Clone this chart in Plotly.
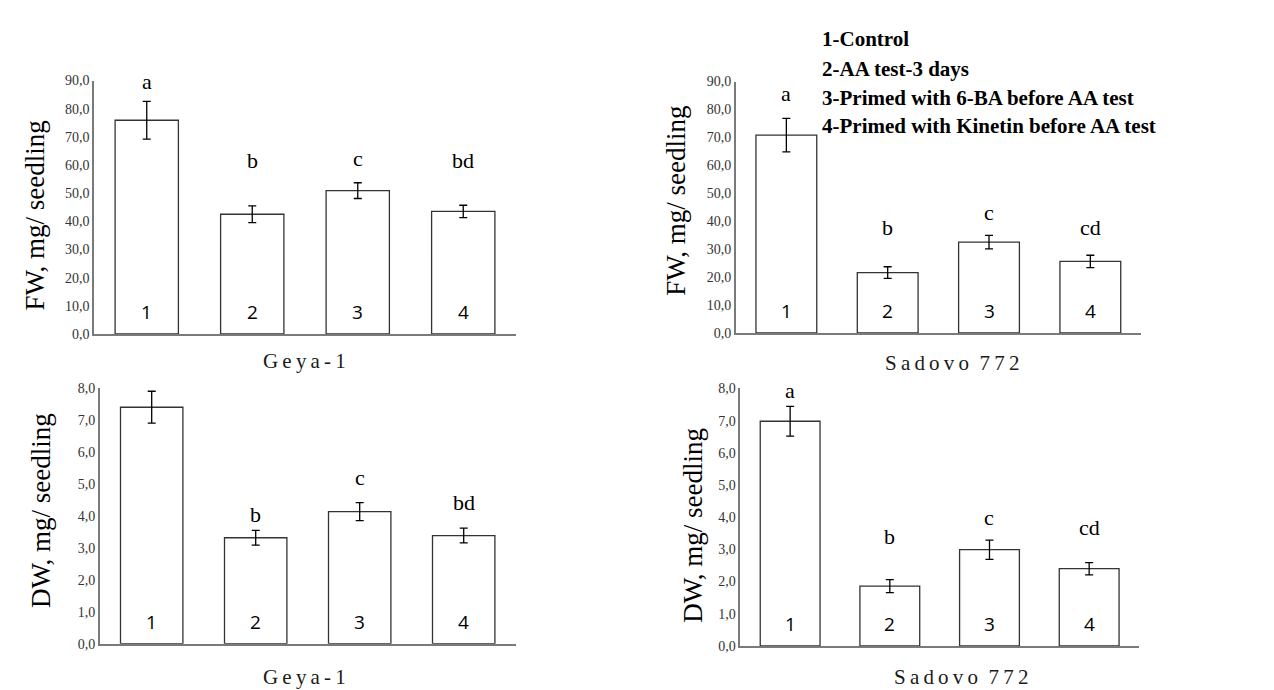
import plotly.graph_objects as go

# ---------------- data ----------------
treatments = ["1", "2", "3", "4"]

fw_geya = [75.9, 42.5, 50.9, 43.5]
fw_geya_err = [6.7, 3.0, 2.8, 2.2]
fw_sadovo = [70.8, 21.6, 32.5, 25.6]
fw_sadovo_err = [6.0, 2.1, 2.4, 2.2]

dw_geya = [7.41, 3.32, 4.14, 3.39]
dw_geya_err = [0.50, 0.23, 0.28, 0.23]
dw_sadovo = [6.98, 1.86, 2.99, 2.40]
dw_sadovo_err = [0.46, 0.20, 0.30, 0.19]

letters_fw_geya = ["a", "b", "c", "bd"]
letters_fw_sadovo = ["a", "b", "c", "cd"]
letters_dw_geya = ["a", "b", "c", "bd"]
letters_dw_sadovo = ["a", "b", "c", "cd"]

# heights (in axis units) where the significance letters sit
letter_h_fw_geya = [89.6, 61.5, 62.3, 61.5]
letter_h_fw_sadovo = [85.8, 37.9, 43.2, 37.9]
letter_h_dw_geya = [8.29, 4.05, 5.20, 4.43]
letter_h_dw_sadovo = [7.95, 3.40, 4.00, 3.68]

legend_lines = [
    "1-Control",
    "2-AA test-3 days",
    "3-Primed with 6-BA before AA test",
    "4-Primed with Kinetin before AA test",
]

variety_geya = "Geya-1"
variety_sadovo = "Sadovo 772"
ytitle_fw = "FW, mg/ seedling"
ytitle_dw = "DW, mg/ seedling"

# ---------------- figure ----------------
W, H = 1274, 690
SERIF = "Liberation Serif, Times New Roman, serif"
SANS = "Open Sans, Liberation Sans, sans-serif"
AXIS_COL = "#7a7a7a"


def spaced(s):
    return "\u2009".join(list(s))


panels = [
    dict(v=fw_geya, e=fw_geya_err, L=letters_fw_geya, Lh=letter_h_fw_geya,
         xa="x", ya="y", xd=(86, 508), yd=(326, 67), yr=90, dt=10),
    dict(v=fw_sadovo, e=fw_sadovo_err, L=letters_fw_sadovo, Lh=letter_h_fw_sadovo,
         xa="x2", ya="y2", xd=(727.7, 1133), yd=(325, 68), yr=90, dt=10),
    dict(v=dw_geya, e=dw_geya_err, L=letters_dw_geya, Lh=letter_h_dw_geya,
         xa="x3", ya="y3", xd=(91.7, 507.7), yd=(642.7, 381.7), yr=8, dt=1),
    dict(v=dw_sadovo, e=dw_sadovo_err, L=letters_dw_sadovo, Lh=letter_h_dw_sadovo,
         xa="x4", ya="y4", xd=(732.3, 1131), yd=(645, 381.7), yr=8, dt=1),
]

fig = go.Figure()
annotations = []
layout_axes = {}

for i, p in enumerate(panels):
    fig.add_trace(go.Bar(
        x=treatments, y=p["v"],
        xaxis=p["xa"], yaxis=p["ya"],
        width=0.6,
        marker=dict(color="white", line=dict(color="#333333", width=1.3)),
        error_y=dict(type="data", array=p["e"], visible=True,
                     color="black", thickness=1.3, width=4),
        showlegend=False, hoverinfo="skip",
    ))
    suffix = "" if i == 0 else str(i + 1)
    layout_axes["xaxis" + suffix] = dict(
        domain=[p["xd"][0] / W, p["xd"][1] / W],
        anchor=p["ya"], type="category", range=[-0.5, 3.5],
        showline=True, linecolor=AXIS_COL, linewidth=1.5,
        showticklabels=False, ticks="", showgrid=False, zeroline=False,
    )
    layout_axes["yaxis" + suffix] = dict(
        domain=[1 - p["yd"][0] / H, 1 - p["yd"][1] / H],
        anchor=p["xa"], range=[0, p["yr"]], dtick=p["dt"], tick0=0,
        tickformat=".1f",
        showline=True, linecolor=AXIS_COL, linewidth=1.5,
        ticks="", ticklen=0, showgrid=False, zeroline=False,
        tickfont=dict(family=SERIF, size=14, color="#333333"),
    )
    # significance letters (category index positions)
    for k, (lab, h) in enumerate(zip(p["L"], p["Lh"])):
        annotations.append(dict(
            x=k, y=h, xref=p["xa"], yref=p["ya"], text=lab, showarrow=False,
            xanchor="center", yanchor="middle",
            font=dict(family=SERIF, size=22, color="black"),
        ))
    # treatment numbers inside bars
    for k, t in enumerate(treatments):
        annotations.append(dict(
            x=k, y=0, xref=p["xa"], yref=p["ya"] + " domain", text=t,
            showarrow=False, xanchor="center", yanchor="middle", yshift=22,
            font=dict(family=SANS, size=19, color="black"),
        ))

# variety labels under each panel
for txt, cx, cy in [(variety_geya, 296, 354), (variety_sadovo, 944, 356),
                    (variety_geya, 296, 677), (variety_sadovo, 953, 677)]:
    annotations.append(dict(
        x=cx / W, y=1 - cy / H, xref="paper", yref="paper",
        text=spaced(txt).replace("\u2009 \u2009", "\u2002"),
        showarrow=False, xanchor="center", yanchor="middle",
        font=dict(family=SERIF, size=21, color="#1a1a1a"),
    ))

# y-axis titles
for txt, cx, cy in [(ytitle_fw, 27, 205), (ytitle_fw, 668, 190),
                    (ytitle_dw, 33, 507), (ytitle_dw, 685, 522)]:
    annotations.append(dict(
        x=cx / W, y=1 - cy / H, xref="paper", yref="paper", text=txt,
        textangle=-90, showarrow=False, xanchor="center", yanchor="middle",
        font=dict(family=SERIF, size=27, color="black"),
    ))

# treatment key
for line, cy in zip(legend_lines, [25, 55, 85, 113]):
    annotations.append(dict(
        x=812 / W, y=1 - cy / H, xref="paper", yref="paper",
        text="<b>" + line + "</b>", showarrow=False,
        xanchor="left", yanchor="middle",
        font=dict(family=SERIF, size=21, color="black"),
    ))

fig.update_layout(
    width=W, height=H,
    margin=dict(l=0, r=0, t=0, b=0),
    paper_bgcolor="white", plot_bgcolor="white",
    separators=",.",
    annotations=annotations,
    **layout_axes,
)

fig.write_html("out.html")
